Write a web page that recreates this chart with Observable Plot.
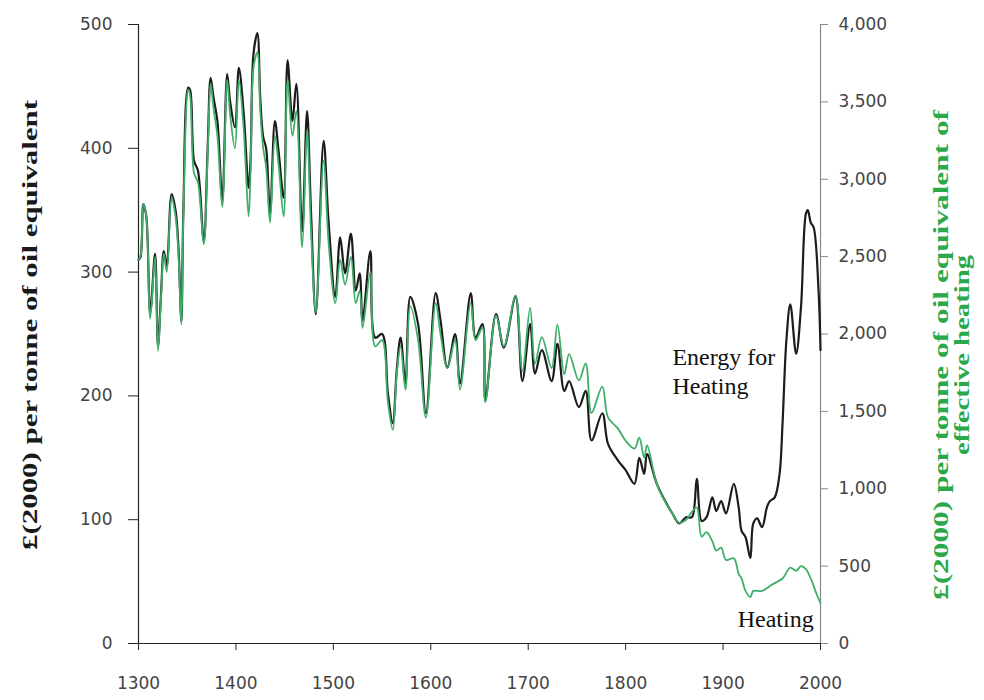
<!DOCTYPE html>
<html><head><meta charset="utf-8">
<script src="https://cdn.jsdelivr.net/npm/d3@7"></script>
<script src="https://cdn.jsdelivr.net/npm/@observablehq/plot@0.6"></script>
<style>body{margin:0;background:#fff;}</style>
</head><body><div id="chart"></div>
<script>
// Energy for Heating, £(2000) per tonne of oil equivalent (left axis)
const energyYears = [1300,1302,1305,1308,1312,1317,1320,1323,1326,1329,1334,1338,1341,1344,1346,1351,1353,1357,1361,1367,1371,1374,1377,1381,1386,1391,1394,1399,1403,1408,1413,1415,1418,1422,1425,1428,1431,1435,1440,1444,1449,1453,1458,1462,1468,1473,1477,1482,1490,1495,1502,1507,1512,1518,1523,1527,1530,1538,1543,1550,1556,1561,1565,1569,1574,1579,1587,1595,1605,1610,1617,1625,1630,1641,1646,1653,1656,1667,1675,1687,1694,1702,1707,1714,1724,1730,1737,1742,1752,1759,1765,1776,1782,1792,1800,1809,1814,1819,1822,1832,1842,1848,1855,1862,1868,1873,1878,1883,1889,1893,1898,1903,1911,1916,1919,1923,1928,1931,1935,1940,1945,1948,1953,1958,1961,1965,1969,1975,1980,1985,1987,1990,1993,1998,2000];
const energyValues = [310,312,355,345,267,315,240,280,317,305,363,350,320,260,347,449,447,390,382,325,400,457,441,422,358,460,438,417,465,428,368,390,476,493,440,409,400,347,422,396,360,471,422,452,333,430,350,266,406,342,280,328,299,331,285,299,261,317,247,250,202,178,220,247,210,280,258,186,283,261,223,250,210,283,247,258,196,266,239,280,212,258,218,237,212,242,204,212,191,204,164,186,161,148,140,129,150,137,153,129,113,105,97,102,102,133,99,102,118,107,115,105,129,110,91,86,69,97,101,94,110,115,118,137,177,245,274,234,272,347,350,340,336,285,237];
// Heating, £(2000) per tonne of oil equivalent of effective heating (right axis)
const heatingYears = [1300,1302,1305,1308,1312,1317,1320,1323,1326,1329,1334,1338,1341,1344,1346,1351,1353,1357,1361,1367,1371,1374,1377,1381,1386,1391,1394,1399,1403,1408,1413,1415,1418,1422,1425,1428,1431,1435,1440,1444,1449,1453,1458,1462,1468,1473,1477,1482,1490,1495,1502,1507,1512,1518,1523,1527,1530,1538,1543,1550,1556,1561,1565,1569,1574,1579,1587,1595,1605,1610,1617,1625,1630,1641,1646,1653,1656,1667,1675,1687,1694,1702,1707,1714,1724,1730,1737,1742,1752,1759,1765,1776,1782,1792,1800,1809,1814,1819,1822,1832,1842,1848,1855,1862,1868,1873,1878,1883,1889,1893,1898,1903,1911,1916,1919,1923,1928,1931,1940,1950,1961,1969,1975,1980,1985,1990,1996,2000];
const heatingValues = [2480,2500,2840,2760,2100,2500,1890,2220,2520,2400,2880,2760,2520,2060,2760,3580,3540,3040,2980,2580,3160,3620,3460,3280,2820,3640,3420,3200,3640,3320,2760,3040,3720,3820,3440,3200,3080,2720,3280,3080,2760,3640,3280,3440,2560,3320,2680,2140,3120,2600,2200,2480,2320,2500,2200,2280,2040,2400,1920,1960,1560,1380,1740,1920,1640,2180,1960,1460,2200,2000,1780,1960,1640,2200,1960,2040,1560,2120,1920,2250,1760,2170,1810,1980,1780,2060,1740,1870,1700,1810,1490,1660,1460,1390,1310,1260,1330,1200,1280,1030,900,840,780,800,850,880,690,720,660,600,620,540,550,450,420,340,300,340,340,380,420,490,470,500,480,420,320,260];

const xTicks = [1300,1400,1500,1600,1700,1800,1900,2000];
const leftTicks = [0,100,200,300,400,500];
const rightTicks = [0,500,1000,1500,2000,2500,3000,3500,4000];
const leftTitle = "£(2000) per tonne of oil equivalent";
const rightTitleLines = ["£(2000) per tonne of oil equivalent of", "effective heating"];
const annotationTexts = ["Energy for\nHeating", "Heating"];
const annotationYears = [1848, 1915];
const annotationValues = [221, 21];
const RATIO = 8; // right-axis units per left-axis unit

const energy = energyYears.map((y, i) => ({year: y, value: energyValues[i]}));
const heating = heatingYears.map((y, i) => ({year: y, value: heatingValues[i] / RATIO}));
const annotations = annotationTexts.map((t, i) => ({text: t, year: annotationYears[i], value: annotationValues[i]}));

const chart = Plot.plot({
  width: 984, height: 700,
  marginLeft: 138, marginRight: 164, marginTop: 24, marginBottom: 57,
  style: {fontFamily: "DejaVu Sans", fontSize: "17px", background: "#fff", color: "#444"},
  x: {domain: [1300, 2000]},
  y: {domain: [0, 500]},
  marks: [
    Plot.axisX({ticks: xTicks, tickFormat: d => String(d), tickSize: 7, tickPadding: 26, label: null, stroke: "#222", fill: "#444"}),
    Plot.axisY({anchor: "left", ticks: leftTicks, tickSize: 10, tickPadding: 16, label: null, stroke: "#222", fill: "#444"}),
    Plot.axisY({anchor: "right", ticks: rightTicks.map(v => v / RATIO), tickFormat: d => d3.format(",")(d * RATIO), tickSize: 7, tickPadding: 11, label: null, stroke: "#888", fill: "#444"}),
    Plot.ruleX([1300], {stroke: "#222", strokeWidth: 1.2}),
    Plot.ruleX([2000], {stroke: "#888", strokeWidth: 1.2}),
    Plot.ruleY([0], {stroke: "#222", strokeWidth: 1.2}),
    Plot.line(energy, {x: "year", y: "value", stroke: "#1c1c1c", strokeWidth: 2.2, curve: "catmull-rom"}),
    Plot.line(heating, {x: "year", y: "value", stroke: "#3fae6a", strokeWidth: 1.8, curve: "catmull-rom"}),
    Plot.text(annotations, {x: "year", y: "value", text: "text", textAnchor: "start", fontFamily: "Liberation Serif", fontSize: 24, fill: "#111", lineHeight: 1.25})
  ]
});

const svg = d3.select(chart);
svg.append("text")
  .attr("transform", "translate(29,325) rotate(-90)")
  .attr("text-anchor", "middle").attr("dominant-baseline", "central")
  .attr("font-family", "Liberation Serif").attr("font-weight", "bold").attr("font-size", 22)
  .attr("fill", "#1a1a1a")
  .attr("textLength", 450).attr("lengthAdjust", "spacingAndGlyphs")
  .text(leftTitle);
const rtX = [940, 961], rtLen = [490, 200];
rightTitleLines.forEach((t, i) => {
  svg.append("text")
    .attr("transform", `translate(${rtX[i]},355) rotate(-90)`)
    .attr("text-anchor", "middle").attr("dominant-baseline", "central")
    .attr("font-family", "Liberation Serif").attr("font-weight", "bold").attr("font-size", 22)
    .attr("fill", "#2aa84a")
    .attr("textLength", rtLen[i]).attr("lengthAdjust", "spacingAndGlyphs")
    .text(t);
});
document.getElementById("chart").appendChild(chart);
</script>
</body></html>
